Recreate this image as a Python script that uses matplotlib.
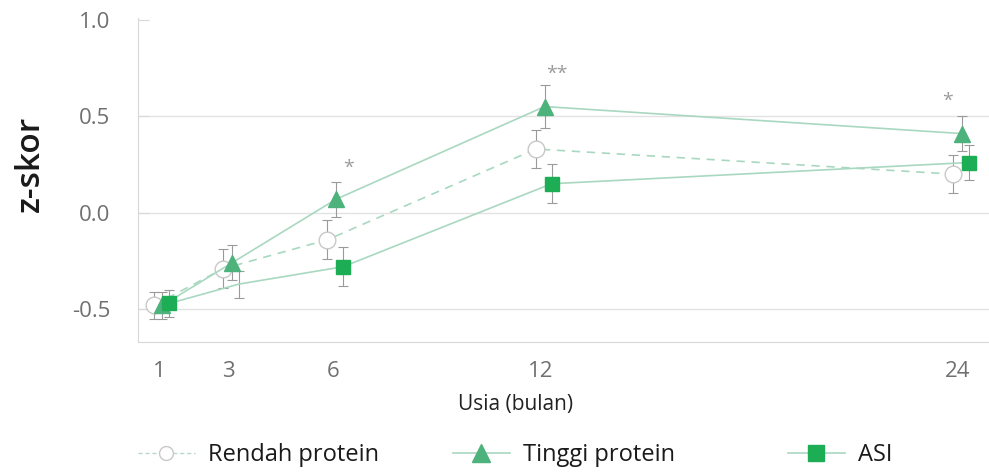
import matplotlib
matplotlib.use('Agg')
from matplotlib import pyplot as plt
from matplotlib.lines import Line2D
import numpy as np

plt.rcParams['font.family'] = ['Open Sans', 'DejaVu Sans']

# data
usia = [1, 3, 6, 12, 24]
rendah = [-0.48, -0.29, -0.14, 0.33, 0.20]
rendah_err = [0.07, 0.10, 0.10, 0.10, 0.10]
tinggi = [-0.48, -0.26, 0.07, 0.55, 0.41]
tinggi_err = [0.07, 0.09, 0.09, 0.11, 0.09]
asi = [-0.47, -0.37, -0.28, 0.15, 0.26]
asi_err = [0.07, 0.07, 0.10, 0.10, 0.09]
tanda = ['', '', '*', '**', '*']
tanda_y = [None, None, 0.23, 0.72, 0.58]
tanda_dx = [0, 0, 0.45, 0.45, -0.3]

line_c = '#a9d8c0'
tri_c = '#4db27c'
sq_c = '#1cad55'
err_c = '#9a9a9a'
txt_c = '#707070'

fig = plt.figure(figsize=(9.89, 4.74), dpi=100)
ax = fig.add_axes([0.1395, 0.2785, 0.8605, 0.684])

x = np.array(usia, dtype=float)

# Rendah protein
ax.errorbar(x - 0.15, rendah, yerr=rendah_err, fmt='none', ecolor=err_c,
            elinewidth=0.8, capsize=3.5, capthick=0.8, zorder=2)
ax.plot(x - 0.15, rendah, ls=(0, (5, 4)), color=line_c, lw=1.2,
        marker='o', ms=12, mfc='white', mec='#c8c8c8', mew=1.0, zorder=3)

# Tinggi protein
ax.errorbar(x + 0.1, tinggi, yerr=tinggi_err, fmt='none', ecolor=err_c,
            elinewidth=0.8, capsize=3.5, capthick=0.8, zorder=2)
ax.plot(x + 0.1, tinggi, ls='-', color=line_c, lw=1.2,
        marker='^', ms=11, mfc=tri_c, mec=tri_c, zorder=4)

# ASI
ax.errorbar(x + 0.3, asi, yerr=asi_err, fmt='none', ecolor=err_c,
            elinewidth=0.8, capsize=3.5, capthick=0.8, zorder=2)
ax.plot(x + 0.3, asi, ls='-', color=line_c, lw=1.2,
        marker='s', ms=10, mfc=sq_c, mec=sq_c, markevery=[0, 2, 3, 4], zorder=4)

# tanda signifikan
for xi, t, ty, dx in zip(usia, tanda, tanda_y, tanda_dx):
    if t:
        ax.text(xi + dx, ty, t, ha='center', va='center', fontsize=14, color='#9a9a9a')

ax.set_xlim(0.395, 24.89)
ax.set_ylim(-0.67, 1.01)
ax.set_xticks(usia)
ax.set_yticks([-0.5, 0.0, 0.5, 1.0])
ax.set_yticklabels(['-0.5', '0.0', '0.5', '1.0'])
ax.tick_params(axis='x', length=0, labelsize=16, labelcolor=txt_c, pad=14)
ax.tick_params(axis='y', direction='in', length=8, color='#d8d8d8',
               labelsize=16, labelcolor=txt_c, pad=20)
for gy in [-0.5, 0.0, 0.5]:
    ax.axhline(gy, color='#e3e3e3', lw=1.0, zorder=0)
for s in ['top', 'right']:
    ax.spines[s].set_visible(False)
for s in ['left', 'bottom']:
    ax.spines[s].set_color('#d8d8d8')

ax.set_xlabel('Usia (bulan)', fontsize=15, color='#222222')
ax.xaxis.set_label_coords(0.444, -0.16)
ax.set_ylabel('z-skor', fontsize=24, color='#1a1a1a', fontweight='semibold')
ax.yaxis.set_label_coords(-0.107, 0.55)

# legenda, tiap entri ditempatkan sendiri
entri = [
    (Line2D([], [], ls=(0, (3, 2)), color='#b8d8c8', lw=1.0, marker='o', ms=10,
            mfc='white', mec='#c8c8c8'), 'Rendah protein', 138),
    (Line2D([], [], ls='-', color=line_c, lw=1.2, marker='^', ms=13,
            mfc=tri_c, mec=tri_c), 'Tinggi protein', 453),
    (Line2D([], [], ls='-', color=line_c, lw=1.2, marker='s', ms=11,
            mfc=sq_c, mec=sq_c), 'ASI', 788),
]
for h, lab, px in entri:
    fig.legend([h], [lab], loc='center left', bbox_to_anchor=(px / 989, 1 - 455 / 474),
               frameon=False, fontsize=17, borderpad=0, borderaxespad=0,
               handlelength=2.4, handletextpad=0.55, labelcolor='#1a1a1a')

plt.savefig('out.png', dpi=100)
